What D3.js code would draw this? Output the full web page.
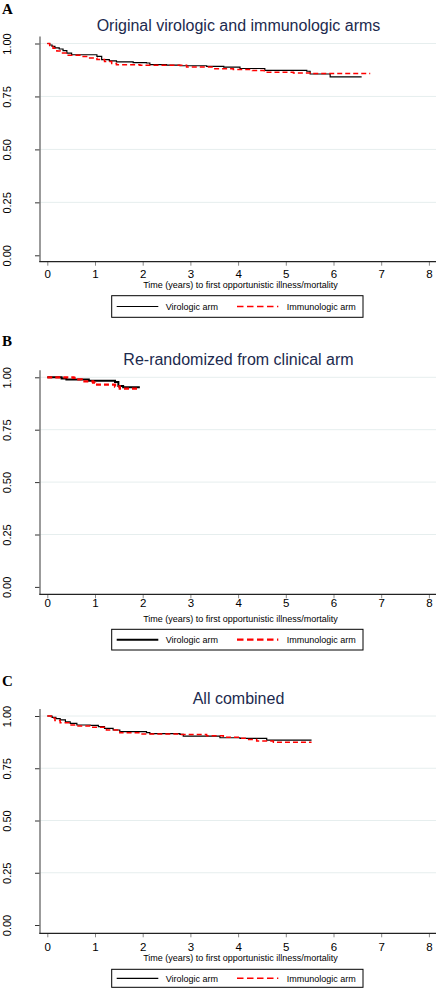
<!DOCTYPE html>
<html>
<head>
<meta charset="utf-8">
<script src="https://cdn.jsdelivr.net/npm/d3@7"></script>
<style>
  html, body { margin: 0; padding: 0; background: #fff; }
  svg { display: block; }
  text { font-family: "Liberation Sans", Arial, Helvetica, sans-serif; }
</style>
</head>
<body>
<svg id="chart" width="436" height="989"></svg>
<script>
// ---------- data ----------
const panelLetters = ["A", "B", "C"];
const panelTitles = ["Original virologic and immunologic arms", "Re-randomized from clinical arm", "All combined"];
const seriesNames = ["Virologic arm", "Immunologic arm"];
const xTicks = [0, 1, 2, 3, 4, 5, 6, 7, 8];
const yTicks = [0, 0.25, 0.5, 0.75, 1];
const xAxisTitle = "Time (years) to first opportunistic illness/mortality";

// Panel A
const timeA_vir = [0, 0.05, 0.1, 0.16, 0.25, 0.33, 0.41, 0.51, 1.04, 1.14, 1.3, 1.45, 1.8, 2.08, 2.15, 2.5, 2.78, 3.34, 3.7, 4.04, 4.56, 5.44, 5.51, 5.93, 6.59];
const survA_vir = [1.0, 0.993, 0.986, 0.979, 0.974, 0.966, 0.955, 0.947, 0.939, 0.924, 0.918, 0.913, 0.910, 0.908, 0.900, 0.898, 0.895, 0.892, 0.888, 0.882, 0.873, 0.869, 0.856, 0.842, 0.842];
const timeA_imm = [0, 0.05, 0.12, 0.2, 0.27, 0.41, 0.69, 0.85, 1.04, 1.2, 1.35, 1.45, 1.94, 2.92, 3.48, 3.9, 4.3, 4.55, 5.16, 5.55, 6.77];
const survA_imm = [1.0, 0.99, 0.978, 0.965, 0.955, 0.944, 0.939, 0.932, 0.924, 0.915, 0.906, 0.900, 0.897, 0.889, 0.881, 0.877, 0.872, 0.864, 0.861, 0.858, 0.858];

// Panel B
const timeB_vir = [0, 0.3, 0.4, 0.87, 1.42, 1.49, 1.59, 1.94];
const survB_vir = [1.0, 0.994, 0.990, 0.983, 0.978, 0.959, 0.952, 0.952];
const timeB_imm = [0, 0.55, 0.62, 0.72, 0.96, 1.0, 1.42, 1.52, 1.94];
const survB_imm = [1.0, 0.997, 0.99, 0.981, 0.975, 0.965, 0.956, 0.946, 0.946];

// Panel C
const timeC_vir = [0, 0.1, 0.18, 0.27, 0.38, 0.48, 0.62, 0.9, 1.07, 1.2, 1.38, 1.52, 2.08, 2.15, 2.78, 2.85, 3.62, 4.04, 4.6, 5.54];
const survC_vir = [1.0, 0.993, 0.987, 0.981, 0.972, 0.965, 0.957, 0.955, 0.949, 0.941, 0.933, 0.925, 0.920, 0.916, 0.912, 0.904, 0.896, 0.893, 0.885, 0.885];
const timeC_imm = [0, 0.08, 0.16, 0.27, 0.48, 0.62, 0.9, 1.24, 1.52, 1.94, 2.78, 3.34, 3.69, 4.04, 4.18, 4.39, 4.74, 5.54];
const survC_imm = [1.0, 0.99, 0.979, 0.968, 0.957, 0.952, 0.946, 0.933, 0.920, 0.914, 0.911, 0.906, 0.898, 0.893, 0.888, 0.880, 0.874, 0.874];

const panelSeries = [
  [[timeA_vir, survA_vir], [timeA_imm, survA_imm]],
  [[timeB_vir, survB_vir], [timeB_imm, survB_imm]],
  [[timeC_vir, survC_vir], [timeC_imm, survC_imm]]
];

// ---------- layout ----------
const layouts = [
  { letterBase: 13.5, titleBase: 31, y1: 43.5, y0: 255.3, axisY: 261.7, tickBase: 278, axTitleBase: 288.3, legTop: 295.7, legH: 21.6, lw: 1.2 },
  { letterBase: 345.5, titleBase: 365, y1: 377.3, y0: 586.9, axisY: 594.3, tickBase: 607.5, axTitleBase: 621.5, legTop: 629.3, legH: 20.7, lw: 2 },
  { letterBase: 686, titleBase: 704, y1: 716, y0: 925, axisY: 933.3, tickBase: 951.5, axTitleBase: 961, legTop: 969.3, legH: 18, lw: 1.2 }
];

const svg = d3.select("#chart");
const x = d3.scaleLinear().domain([0, 8]).range([47.3, 428.9]);
const plotLeft = 40, plotRight = 436;
const serColors = ["#000000", "#ff0000"];
const serDash = [null, "5,3"];

layouts.forEach((L, i) => {
  const g = svg.append("g");
  const y = d3.scaleLinear().domain([0, 1]).range([L.y0, L.y1]);

  // panel letter
  g.append("text").attr("x", 2).attr("y", L.letterBase)
    .style("font-family", "'Liberation Serif', 'Times New Roman', serif")
    .attr("font-weight", "bold").attr("font-size", 15).text(panelLetters[i]);

  // title
  g.append("text").attr("x", 238.5).attr("y", L.titleBase).attr("text-anchor", "middle")
    .attr("font-size", 16).attr("fill", "#1c2a4e").text(panelTitles[i]);

  // grid
  g.selectAll("line.grid").data(yTicks.filter(d => d > 0)).enter().append("line")
    .attr("x1", plotLeft).attr("x2", plotRight)
    .attr("y1", d => y(d)).attr("y2", d => y(d))
    .attr("stroke", "#e6eeee").attr("stroke-width", 1);

  // y axis
  const yAxis = d3.axisLeft(y).tickValues(yTicks).tickFormat(d3.format(".2f")).tickSize(5).tickSizeOuter(0);
  const yg = g.append("g").attr("transform", `translate(${plotLeft},0)`).call(yAxis);
  yg.select(".domain").remove();
  yg.selectAll(".tick line").attr("stroke", "#333").attr("stroke-width", 1);
  yg.selectAll(".tick text")
    .attr("x", 0).attr("dy", null).attr("dx", null)
    .attr("transform", "translate(-29,0) rotate(-90)")
    .attr("text-anchor", "middle").attr("font-size", 11).attr("fill", "#000")
    .style("font-family", "'Liberation Sans', Arial, sans-serif");
  g.append("line").attr("x1", plotLeft).attr("x2", plotLeft)
    .attr("y1", L.y1 - 7).attr("y2", L.axisY)
    .attr("stroke", "#7a7a7a").attr("stroke-width", 1.5);

  // x axis
  const xAxis = d3.axisBottom(x).tickValues(xTicks).tickFormat(d3.format("d")).tickSize(4).tickSizeOuter(0);
  const xg = g.append("g").attr("transform", `translate(0,${L.axisY})`).call(xAxis);
  xg.select(".domain").remove();
  xg.selectAll(".tick line").attr("stroke", "#888").attr("stroke-width", 1);
  xg.selectAll(".tick text").attr("y", L.tickBase - L.axisY).attr("dy", null)
    .attr("font-size", 11.5).attr("fill", "#000")
    .style("font-family", "'Liberation Sans', Arial, sans-serif");
  g.append("line").attr("x1", plotLeft - 0.75).attr("x2", plotRight)
    .attr("y1", L.axisY).attr("y2", L.axisY)
    .attr("stroke", "#222").attr("stroke-width", 1.3);

  // axis title
  g.append("text").attr("x", 240.5).attr("y", L.axTitleBase).attr("text-anchor", "middle")
    .attr("font-size", 9).attr("fill", "#000").text(xAxisTitle);

  // curves
  const line = d3.line().x(d => x(d[0])).y(d => y(d[1])).curve(d3.curveStepAfter);
  panelSeries[i].forEach((ser, k) => {
    const pts = ser[0].map((t, j) => [t, ser[1][j]]);
    g.append("path").datum(pts).attr("d", line)
      .attr("fill", "none").attr("stroke", serColors[k])
      .attr("stroke-width", k === 0 ? L.lw : L.lw + 0.3)
      .attr("stroke-dasharray", serDash[k]);
  });

  // legend
  const lg = g.append("g");
  lg.append("rect").attr("x", 111.7).attr("y", L.legTop).attr("width", 251.3).attr("height", L.legH)
    .attr("fill", "#fff").attr("stroke", "#000").attr("stroke-width", 1);
  const ly = L.legTop + L.legH / 2;
  const legX = [[116.7, 158.3, 165.7], [237, 278.3, 286.7]];
  seriesNames.forEach((nm, k) => {
    lg.append("line").attr("x1", legX[k][0]).attr("x2", legX[k][1]).attr("y1", ly).attr("y2", ly)
      .attr("stroke", serColors[k]).attr("stroke-width", k === 0 ? L.lw : L.lw + 0.3)
      .attr("stroke-dasharray", k === 1 ? "6.5,3.5" : null);
    lg.append("text").attr("x", legX[k][2]).attr("y", ly + 3.2)
      .attr("font-size", 9).attr("fill", "#000").text(nm);
  });
});
</script>
</body>
</html>
